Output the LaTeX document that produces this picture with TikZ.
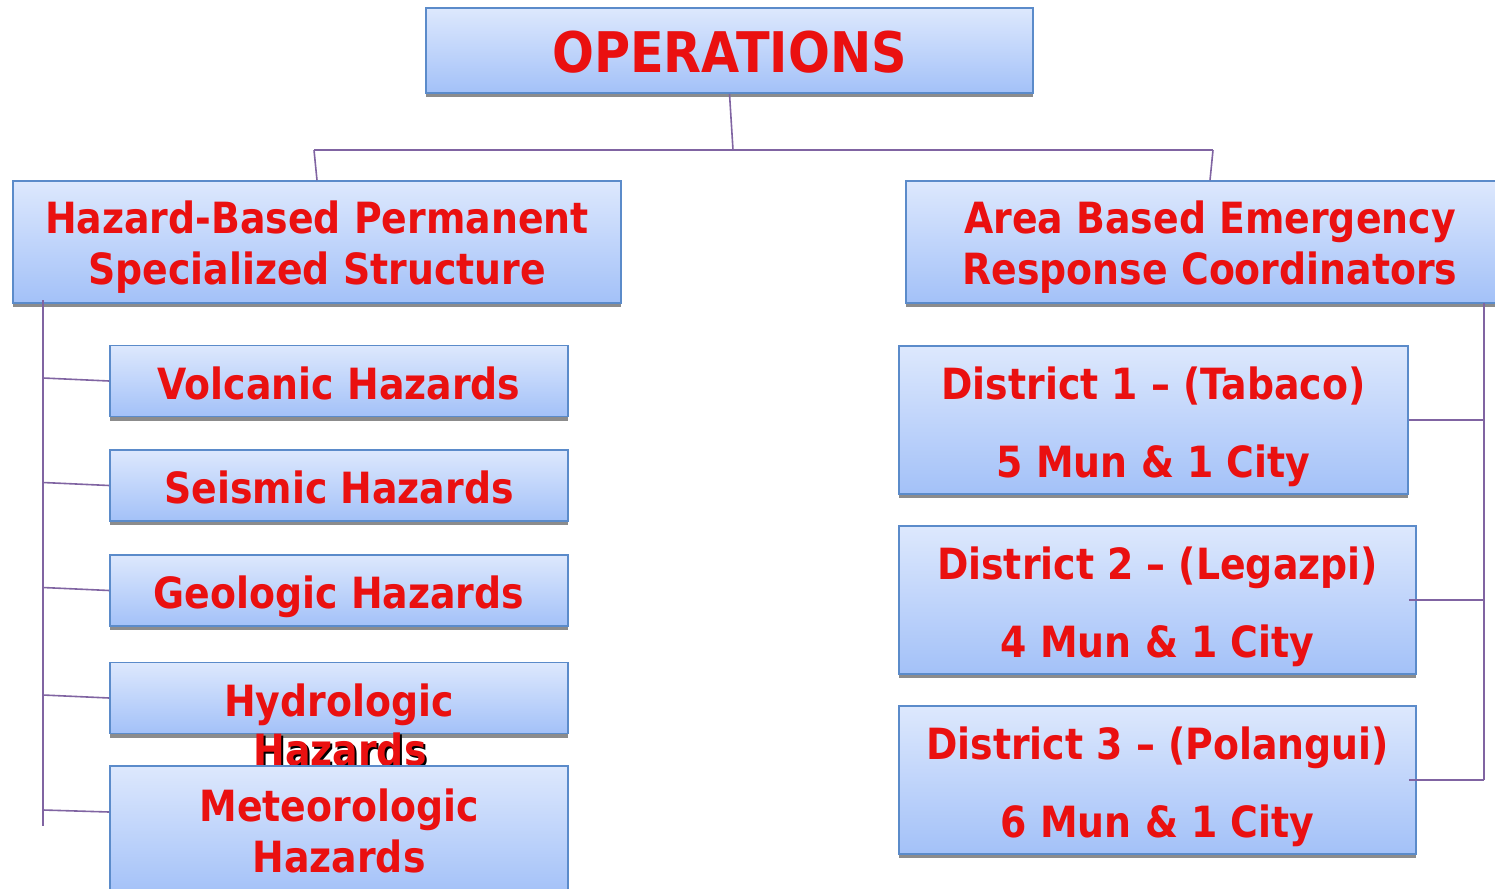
\documentclass[tikz,border=0pt]{standalone}
\usepackage{fontspec}
\setmainfont[FakeStretch=0.88]{DejaVu Sans}
\usetikzlibrary{shadows}

\definecolor{boxtop}{HTML}{DDE8FD}
\definecolor{boxbot}{HTML}{A3C1F8}
\definecolor{boxline}{HTML}{5B8BCA}
\definecolor{linkcol}{HTML}{8064A2}
\definecolor{txtred}{HTML}{EA1010}

\tikzset{
  orgbox/.style={draw=boxline, line width=1.6pt, top color=boxtop, bottom color=boxbot,
    text=txtred, align=center, inner sep=0pt, text depth=0pt, text height=36pt,
    font=\bfseries\fontsize{43}{51}\selectfont,
    drop shadow={shadow xshift=0pt, shadow yshift=-4pt, fill=black!45, opacity=1}},
  twoline/.style={text height=84pt},
  distbox/.style={orgbox, minimum height=148, text height=114pt,
    font=\bfseries\fontsize{43}{78}\selectfont},
  link/.style={draw=linkcol, line width=1.6pt}
}

\begin{document}
\begin{tikzpicture}[x=1pt, y=-1pt]
    \useasboundingbox (0,0) rectangle (1495,888);

    % top level
    \node [orgbox, minimum width=607, minimum height=85, text height=45pt,
        font=\bfseries\fontsize{56}{60}\selectfont] (ops) at (729.5,50.5) {OPERATIONS};

    % the two branches
    \node [orgbox, twoline, minimum width=608, minimum height=122] (hazhead) at (317,242)
        {Hazard-Based Permanent\\Specialized Structure};
    \node [orgbox, twoline, minimum width=608, minimum height=122] (areahead) at (1210,242)
        {Area Based Emergency\\Response Coordinators};

    % hazard boxes
    \node [orgbox, minimum width=458, minimum height=71] (volc) at (339,381) {Volcanic Hazards};
    \node [orgbox, minimum width=458, minimum height=71] (seis) at (339,485.5) {Seismic Hazards};
    \node [orgbox, minimum width=458, minimum height=71] (geol) at (339,590.5) {Geologic Hazards};
    \node [orgbox, minimum width=458, minimum height=71] (hydro) at (339,698) {Hydrologic};
    \node [font=\bfseries\fontsize{43}{51}\selectfont, text=black, anchor=base]
        (hydroshade) at (342,767) {Hazards};
    \node [font=\bfseries\fontsize{43}{51}\selectfont, text=txtred, anchor=base]
        (hydrotail) at (340,765) {Hazards};
    \node [orgbox, twoline, minimum width=458, minimum height=129] (meteo) at (339,830.5)
        {Meteorologic\\Hazards};

    % district boxes
    \node [distbox, minimum width=509] (dist1) at (1153.5,420) {District 1 -- (Tabaco)\\5 Mun \& 1 City};
    \node [distbox, minimum width=517] (dist2) at (1157.5,600) {District 2 -- (Legazpi)\\4 Mun \& 1 City};
    \node [distbox, minimum width=517] (dist3) at (1157.5,780) {District 3 -- (Polangui)\\6 Mun \& 1 City};

    % connectors
    \coordinate (busl) at (314,150);
    \coordinate (busm) at (733,150);
    \coordinate (busr) at (1213,150);
    \draw [link] (ops.south) -- (busm);
    \draw [link] (busl) -- (busr);
    \draw [link] (busl) -- (hazhead.north);
    \draw [link] (busr) -- (areahead.north);

    \coordinate (ltop) at (43,300);
    \coordinate (lbot) at (43,826);
    \draw [link] (ltop) -- (lbot);
    \foreach \b in {volc, seis, geol, hydro} %
        \draw [link] ([yshift=3pt]ltop |- \b.west) -- (\b.west);
    \draw [link] (ltop |- 0,810) -- (meteo.west |- 0,812);

    \coordinate (rtop) at (1484,303);
    \coordinate (rbot) at (1484,780);
    \draw [link] (rtop) -- (rbot);
    \draw [link] (dist1.east) -- (rtop |- dist1.east);
    \foreach \b in {dist2, dist3} %
        \draw [link] ([xshift=-8pt]\b.east) -- (rtop |- \b.east);
\end{tikzpicture}
\end{document}
